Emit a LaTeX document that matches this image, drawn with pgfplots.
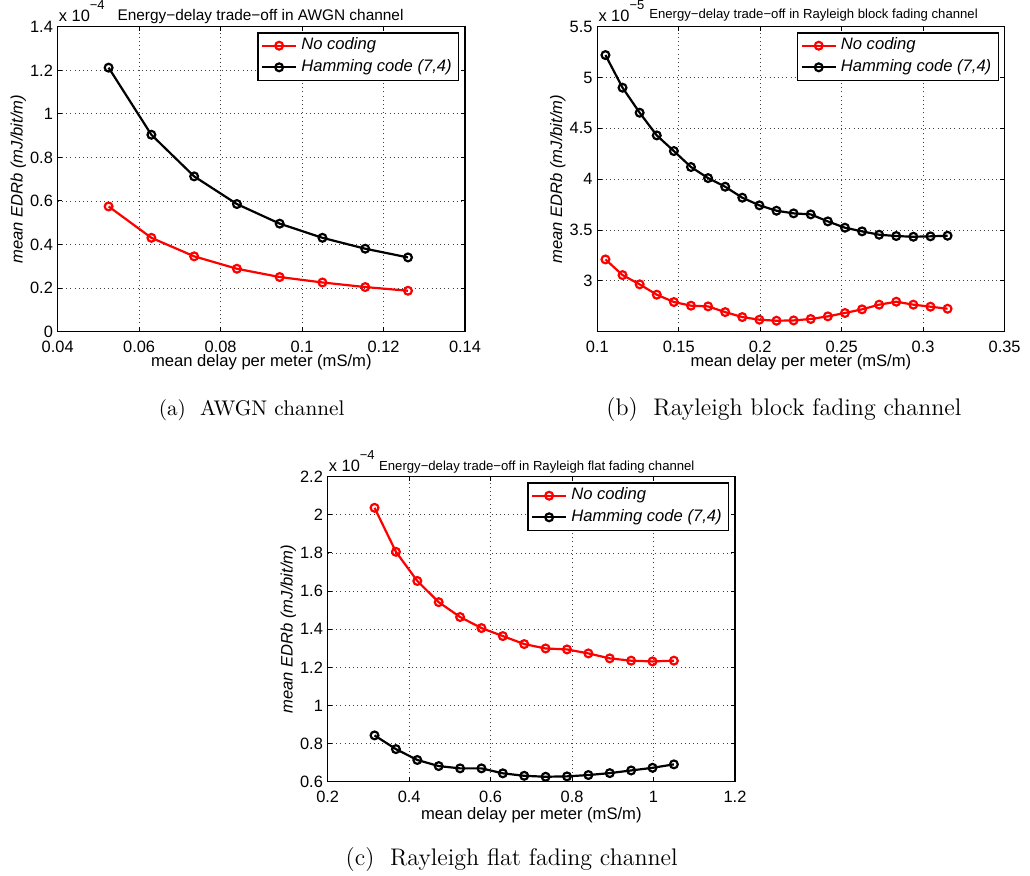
\documentclass[border=0pt]{standalone}
\usepackage{fontspec}
\usepackage{pgfplots}
\usepackage{pgfplotstable}
\pgfplotsset{compat=1.18}
\newfontfamily\msans{Liberation Sans}

\pgfplotstableread{
x      red    black
0.0525 0.575  1.212
0.063  0.431  0.904
0.0735 0.346  0.713
0.084  0.289  0.586
0.0945 0.251  0.496
0.105  0.226  0.431
0.1155 0.205  0.381
0.126  0.188  0.341
}\awgn

\pgfplotstableread{
x      red    black
0.105  3.211  5.221
0.1155 3.057  4.900
0.126  2.966  4.654
0.1365 2.864  4.431
0.147  2.792  4.277
0.1575 2.756  4.120
0.168  2.749  4.011
0.1785 2.693  3.926
0.189  2.644  3.818
0.1995 2.618  3.743
0.21   2.608  3.690
0.2205 2.611  3.664
0.231  2.625  3.654
0.2415 2.651  3.585
0.252  2.684  3.523
0.2625 2.720  3.487
0.273  2.766  3.454
0.2835 2.795  3.441
0.294  2.766  3.434
0.3045 2.746  3.438
0.315  2.726  3.444
}\block

\pgfplotstableread{
x      red    black
0.315  2.037  0.843
0.3675 1.806  0.771
0.42   1.653  0.714
0.4725 1.542  0.682
0.525  1.464  0.670
0.5775 1.406  0.670
0.63   1.364  0.644
0.6825 1.322  0.631
0.735  1.299  0.626
0.7875 1.294  0.628
0.84   1.273  0.635
0.8925 1.247  0.645
0.945  1.235  0.659
0.9975 1.231  0.673
1.05   1.235  0.691
}\flat

\pgfplotsset{
  mstyle/.style={
    scale only axis, width=203.65pt, height=152.5pt,
    axis line style={line width=0.6pt},
    every tick/.style={black, line width=0.5pt},
    major tick length=2.2pt,
    grid=major,
    major grid style={black!75, line width=0.4pt, dash pattern=on 0.5pt off 1.6pt},
    scaled ticks=false,
    /pgf/number format/assume math mode=true,
    tick label style={font=\msans\fontsize{8.2}{9.8}\selectfont},
    xticklabel style={yshift=-1pt, /pgf/number format/fixed, /pgf/number format/precision=2},
    yticklabel style={inner xsep=2.2pt, /pgf/number format/fixed, /pgf/number format/precision=2},
    label style={font=\msans\fontsize{8.3}{10}\selectfont},
    ylabel={\itshape mean EDRb (mJ/bit/m)},
    ylabel style={at={(axis description cs:-0.0967,0.5)}, anchor=center},
    xlabel={mean delay per meter (mS/m)},
    xlabel style={at={(axis description cs:0.5,-0.099)}, anchor=center},
    legend style={at={(axis description cs:1,1)}, anchor=north east, xshift=-2.85pt, yshift=-2.8pt,
      draw=black, line width=0.6pt, fill=white,
      font=\msans\itshape\fontsize{8.3}{10}\selectfont,
      inner xsep=1.5pt, inner ysep=1pt, row sep=0pt,
      nodes={text height=6pt, text depth=1.8pt, inner ysep=1.5pt}},
    legend cell align=left,
    every axis plot/.append style={line width=1.1pt, mark=o, mark size=1.95pt, mark options={solid}},
  }
}

\newcommand\mult[3]{\node[anchor=base west, inner sep=0pt] at (#1,#2)
  {\msans\fontsize{8.2}{9}\selectfont x 10\raisebox{6pt}{\fontsize{6.5}{7}\selectfont −#3}};}

\begin{document}
\begin{tikzpicture}
\useasboundingbox (0,0) rectangle (515pt,-437.5pt);

% (a) AWGN
\begin{axis}[mstyle, at={(28.85pt,-165.85pt)}, anchor=south west,
  xmin=0.04, xmax=0.14, ymin=0, ymax=1.4,
  xtick={0.04,0.06,0.08,0.1,0.12,0.14},
  ytick={0,0.2,0.4,0.6,0.8,1,1.2,1.4}]
\addplot[red] table[x=x, y=red] {\awgn};
\addplot[black] table[x=x, y=black] {\awgn};
\legend{No coding, {Hamming code (7,4)}}
\end{axis}

% (b) Rayleigh block fading
\begin{axis}[mstyle, at={(298.65pt,-165.85pt)}, anchor=south west,
  xmin=0.1, xmax=0.35, ymin=2.5, ymax=5.5,
  xtick={0.1,0.15,0.2,0.25,0.3,0.35},
  ytick={3,3.5,4,4.5,5,5.5}]
\addplot[red] table[x=x, y=red] {\block};
\addplot[black] table[x=x, y=black] {\block};
\legend{No coding, {Hamming code (7,4)}}
\end{axis}

% (c) Rayleigh flat fading
\begin{axis}[mstyle, at={(163.85pt,-390.85pt)}, anchor=south west,
  xmin=0.2, xmax=1.2, ymin=0.6, ymax=2.2,
  xlabel style={at={(axis description cs:0.5,-0.109)}},
  xtick={0.2,0.4,0.6,0.8,1,1.2},
  ytick={0.6,0.8,1,1.2,1.4,1.6,1.8,2,2.2}]
\addplot[red] table[x=x, y=red] {\flat};
\addplot[black] table[x=x, y=black] {\flat};
\legend{No coding, {Hamming code (7,4)}}
\end{axis}

% exponent labels
\mult{29.25pt}{-10.85pt}{4}
\mult{299.05pt}{-10.85pt}{5}
\mult{164.25pt}{-235.85pt}{4}

% titles
\node[anchor=base, inner sep=0pt, font=\msans\fontsize{7.7}{9}\selectfont] at (130.25pt,-10.25pt)
  {Energy−delay trade−off in AWGN channel};
\node[anchor=base, inner sep=0pt, font=\msans\fontsize{6.57}{8}\selectfont] at (406.75pt,-9.15pt)
  {Energy−delay trade−off in Rayleigh block fading channel};
\node[anchor=base, inner sep=0pt, font=\msans\fontsize{6.57}{8}\selectfont] at (268.4pt,-235pt)
  {Energy−delay trade−off in Rayleigh flat fading channel};

% captions
\node[anchor=base, inner sep=0pt, font=\fontsize{10.6}{12}\selectfont] at (125.85pt,-207.5pt)
  {(a)\ \ AWGN channel};
\node[anchor=base, inner sep=0pt, font=\fontsize{12}{14}\selectfont] at (391.95pt,-207.5pt)
  {(b)\ \ Rayleigh block fading channel};
\node[anchor=base, inner sep=0pt, font=\fontsize{12}{14}\selectfont] at (255.85pt,-432.5pt)
  {(c)\ \ Rayleigh flat fading channel};
\end{tikzpicture}
\end{document}
